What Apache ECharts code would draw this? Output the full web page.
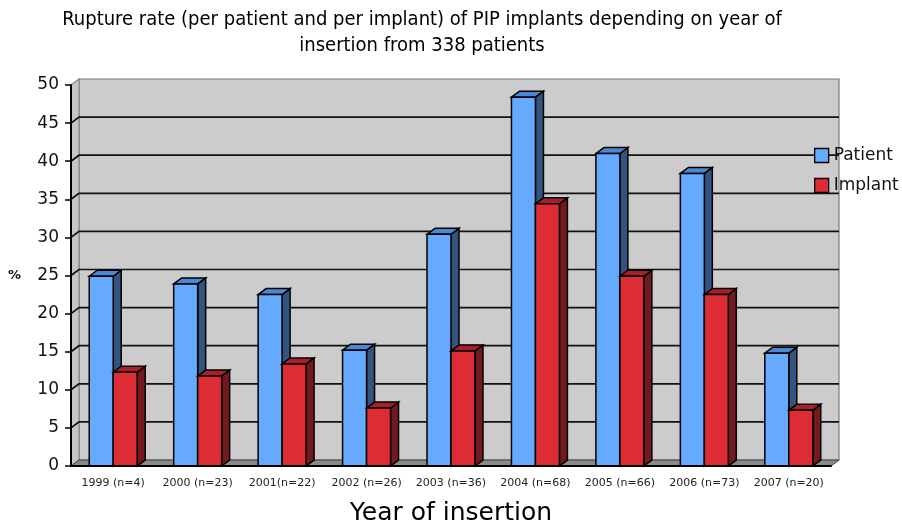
<!DOCTYPE html>
<html>
<head>
<meta charset="utf-8">
<script src="https://cdn.jsdelivr.net/npm/echarts@6/dist/echarts.min.js"></script>
<style>
html,body{margin:0;padding:0;background:#fff;}
#chart{width:902px;height:528px;}
</style>
</head>
<body>
<div id="chart"></div>
<script>
const categories = ['1999 (n=4)','2000 (n=23)','2001(n=22)','2002 (n=26)','2003 (n=36)','2004 (n=68)','2005 (n=66)','2006 (n=73)','2007 (n=20)'];
const patient = [24.9, 23.9, 22.5, 15.2, 30.4, 48.4, 41.0, 38.4, 14.8];
const implant = [12.3, 11.8, 13.4, 7.6, 15.1, 34.4, 24.9, 22.5, 7.3];
const yMin = 0, yMax = 50, yStep = 5;
const titleText = 'Rupture rate (per patient and per implant) of PIP implants depending on year of\ninsertion from 338 patients';
const xName = 'Year of insertion';
const yName = '%';

const DX = 8, DY = -6;       // depth offset of the 3D effect
const BAR_FRAC = 0.284;      // bar width as share of category band

function renderWalls(params, api) {
  const bw = api.size([1, 0])[0];
  const x0 = api.coord([0, yMin])[0] - bw / 2;
  const x1 = api.coord([categories.length - 1, yMin])[0] + bw / 2;
  const yb = api.coord([0, yMin])[1];
  const yt = api.coord([0, yMax])[1];
  const children = [];
  children.push({type: 'rect', shape: {x: x0 + DX, y: yt + DY, width: x1 - x0, height: yb - yt},
    style: {fill: '#CCCCCC', stroke: '#7a7a7a', lineWidth: 1.2}});
  children.push({type: 'polygon', shape: {points: [[x0, yt], [x0 + DX, yt + DY], [x0 + DX, yb + DY], [x0, yb]]},
    style: {fill: '#C6C6C6', stroke: '#8a8a8a', lineWidth: 1.2}});
  children.push({type: 'polygon', shape: {points: [[x0, yb], [x0 + DX, yb + DY], [x1 + DX, yb + DY], [x1, yb]]},
    style: {fill: '#8A8A8A', stroke: '#444', lineWidth: 1}});
  for (let v = yMin + yStep; v < yMax; v += yStep) {
    const y = api.coord([0, v])[1];
    children.push({type: 'polyline', shape: {points: [[x0, y], [x0 + DX, y + DY], [x1 + DX, y + DY]]},
      style: {stroke: '#111', lineWidth: 1.7, fill: null}});
  }
  return {type: 'group', children: children};
}

function makeBar(side, front, sideCol, topCol) {
  return function (params, api) {
    const i = api.value(0), v = api.value(1);
    const top = api.coord([i, v]);
    const base = api.coord([i, yMin]);
    const bw = api.size([1, 0])[0];
    const w = bw * BAR_FRAC;
    const xa = side < 0 ? top[0] - w : top[0];
    const xb = xa + w;
    const yt = top[1], yb = base[1];
    const st = {stroke: '#000', lineWidth: 1.5, lineJoin: 'miter'};
    return {type: 'group', children: [
      {type: 'polygon', shape: {points: [[xb, yt], [xb + DX, yt + DY], [xb + DX, yb + DY], [xb, yb]]},
        style: Object.assign({fill: sideCol}, st)},
      {type: 'polygon', shape: {points: [[xa, yt], [xa + DX, yt + DY], [xb + DX, yt + DY], [xb, yt]]},
        style: Object.assign({fill: topCol}, st)},
      {type: 'rect', shape: {x: xa, y: yt, width: w, height: yb - yt},
        style: Object.assign({fill: front}, st)}
    ]};
  };
}

const chart = echarts.init(document.getElementById('chart'), null, {renderer: 'canvas'});
chart.setOption({
  animation: false,
  backgroundColor: '#ffffff',
  title: {
    text: titleText, left: 422, top: 7, padding: 0, textAlign: 'center',
    textStyle: {fontFamily: "'Liberation Sans Narrow', 'DejaVu Sans Condensed', sans-serif", fontSize: 20, fontWeight: 'normal', color: '#000', lineHeight: 26}
  },
  legend: {
    data: ['Patient', 'Implant'], orient: 'vertical', left: 814, top: 147, padding: 0,
    icon: 'rect', itemWidth: 14, itemHeight: 14, itemGap: 13,
    itemStyle: {borderColor: '#000', borderWidth: 1.3},
    textStyle: {fontFamily: 'DejaVu Sans', fontSize: 17, color: '#111'}
  },
  grid: {left: 71, right: 71, top: 85, bottom: 62, outerBoundsMode: 'none', containLabel: false},
  xAxis: {
    type: 'category', data: categories, z: 10,
    name: xName, nameLocation: 'middle', nameGap: 35,
    nameTextStyle: {fontFamily: 'DejaVu Sans', fontSize: 25, color: '#000'},
    axisLine: {lineStyle: {color: '#000', width: 2}},
    axisTick: {length: 6, lineStyle: {color: '#000', width: 1.5}},
    axisLabel: {fontFamily: 'DejaVu Sans', fontSize: 11, color: '#222', margin: 12, interval: 0},
    splitLine: {show: false}
  },
  yAxis: {
    type: 'value', min: yMin, max: yMax, interval: yStep, z: 10,
    name: yName, nameLocation: 'middle', nameRotate: 0, nameGap: 50,
    nameTextStyle: {fontFamily: 'DejaVu Sans', fontSize: 13, fontWeight: 'bold', color: '#111', padding: [0, 0, 8, 0]},
    axisLine: {show: true, lineStyle: {color: '#000', width: 2}},
    axisTick: {show: true, length: 6, lineStyle: {color: '#000', width: 1.5}},
    axisLabel: {fontFamily: 'DejaVu Sans', fontSize: 17, color: '#111', margin: 12},
    splitLine: {show: false}
  },
  series: [
    {type: 'custom', name: 'walls', renderItem: renderWalls, data: [[0, 0]], silent: true, z: 1},
    {type: 'custom', name: 'Patient', renderItem: makeBar(-1, '#66AAFF', '#32547F', '#4A88D4'),
      itemStyle: {color: '#66AAFF'}, data: patient.map((v, i) => [i, v]), z: 2},
    {type: 'custom', name: 'Implant', renderItem: makeBar(1, '#DD2C34', '#721A1E', '#A82027'),
      itemStyle: {color: '#DD2C34'}, data: implant.map((v, i) => [i, v]), z: 2}
  ]
});
</script>
</body>
</html>
